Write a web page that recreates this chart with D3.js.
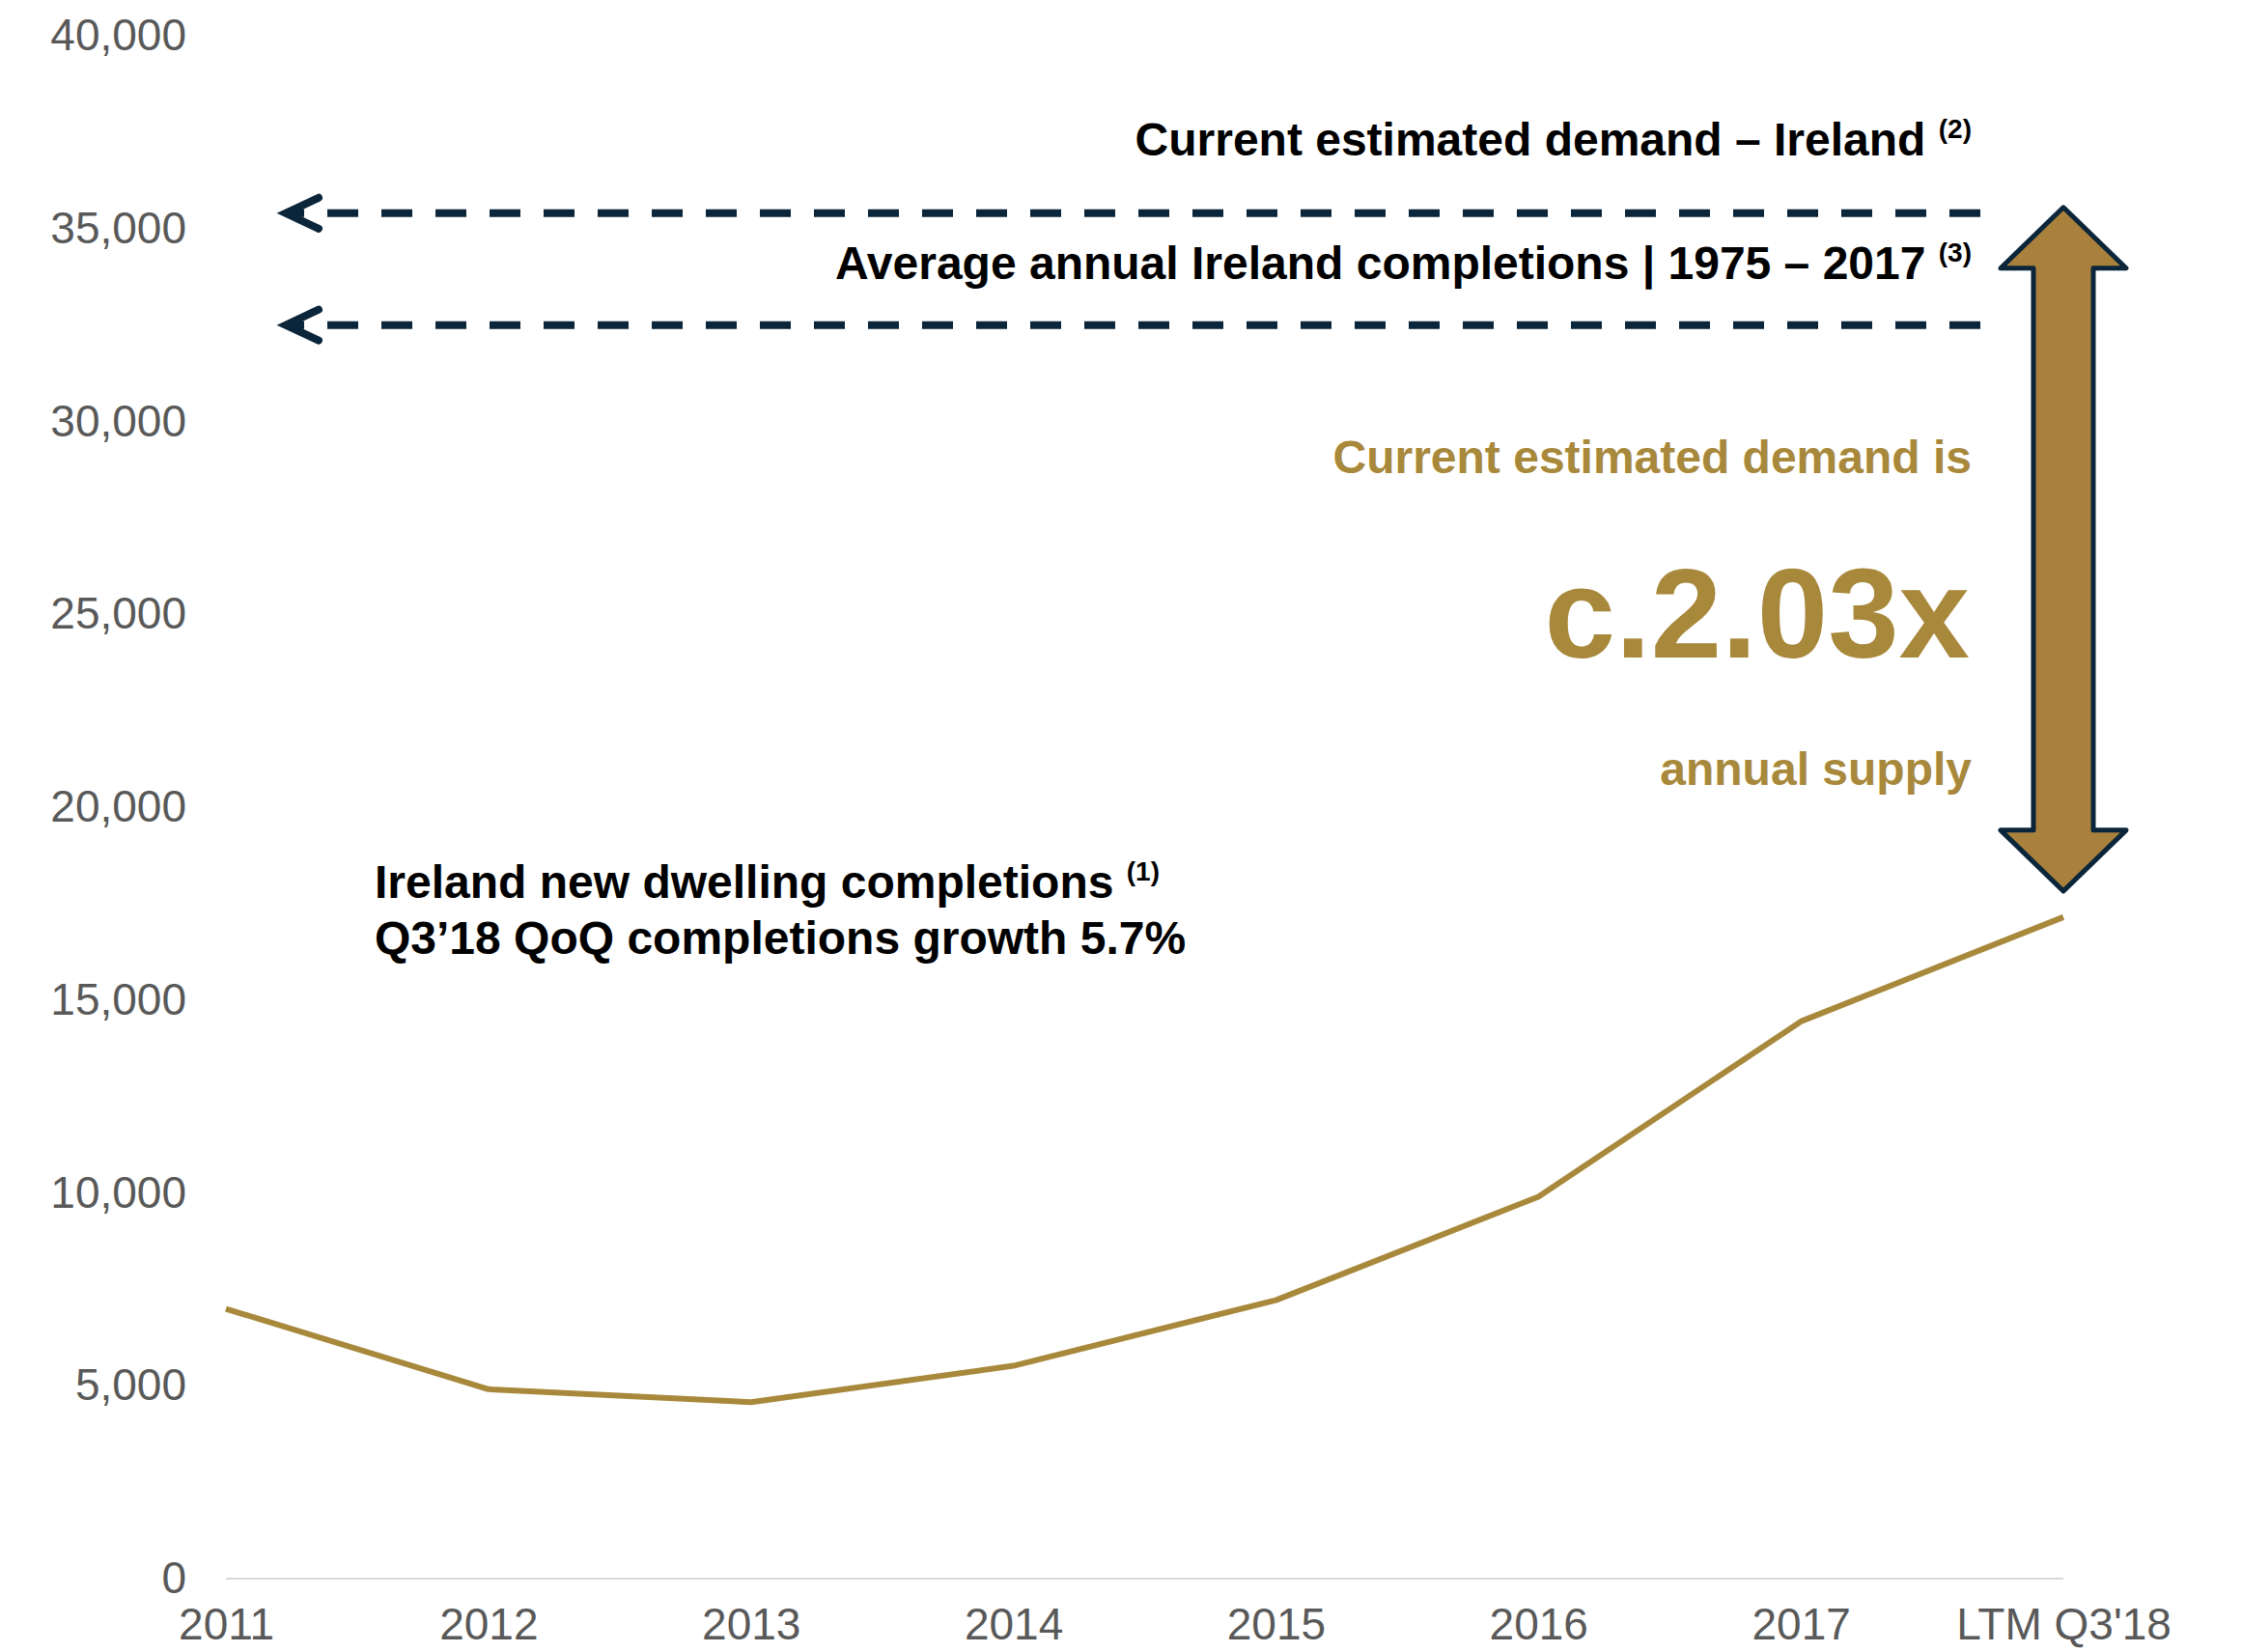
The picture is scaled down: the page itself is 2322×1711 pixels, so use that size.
<!DOCTYPE html>
<html>
<head>
<meta charset="utf-8">
<script src="https://cdn.jsdelivr.net/npm/d3@7"></script>
<style>
  body { margin: 0; background: #fff; }
  text { font-family: "Liberation Sans", Arial, sans-serif; }
</style>
</head>
<body>
<div id="chart"></div>
<script>
// Plot constants
const WIDTH = 2322;
const HEIGHT = 1711;

// Data
const categories = ["2011", "2012", "2013", "2014", "2015", "2016", "2017", "LTM Q3'18"];
const completions = [6994, 4911, 4575, 5518, 7219, 9900, 14446, 17150];
const yTicks = [0, 5000, 10000, 15000, 20000, 25000, 30000, 35000, 40000];
const demandLevel = 35400;   // current estimated demand
const averageLevel = 32500;  // average annual completions 1975-2017

const GOLD = "#A8883B";
const ARROW_GOLD = "#A9813C";
const NAVY = "#0B253A";
const GREY = "#595959";

const svg = d3
  .select("#chart")
  .append("svg")
  .attr("width", WIDTH)
  .attr("height", HEIGHT);

const x = d3.scalePoint().domain(categories).range([234, 2137]);
const y = d3.scaleLinear().domain([0, 40000]).range([1635, 37]);

// Y axis
const yAxis = svg
  .append("g")
  .attr("transform", "translate(205,0)")
  .call(d3.axisLeft(y).tickValues(yTicks).tickFormat(d3.format(",")).tickSize(0).tickPadding(12));
yAxis.select(".domain").remove();
yAxis.selectAll("text").attr("font-size", "46px").attr("fill", GREY);

// X axis
const xAxis = svg
  .append("g")
  .attr("transform", `translate(0,${y(0)})`)
  .call(d3.axisBottom(x).tickSize(0).tickPadding(30));
xAxis.select(".domain").remove();
xAxis.selectAll("text").attr("font-size", "46px").attr("fill", GREY);

// baseline
svg
  .append("line")
  .attr("x1", x(categories[0]))
  .attr("x2", x(categories[categories.length - 1]))
  .attr("y1", y(0))
  .attr("y2", y(0))
  .attr("stroke", "#D9D9D9")
  .attr("stroke-width", 2);

// Completions line
const line = d3
  .line()
  .x((d, i) => x(categories[i]))
  .y((d) => y(d));

svg
  .append("path")
  .datum(completions)
  .attr("d", line)
  .attr("fill", "none")
  .attr("stroke", GOLD)
  .attr("stroke-width", 6)
  .attr("stroke-linejoin", "round");

// Dashed reference arrows
const dashStart = 300;
const dashEnd = 2051;
[demandLevel, averageLevel].forEach((v) => {
  const yy = y(v);
  svg
    .append("line")
    .attr("x1", dashEnd)
    .attr("x2", dashStart)
    .attr("y1", yy)
    .attr("y2", yy)
    .attr("stroke", NAVY)
    .attr("stroke-width", 8)
    .attr("stroke-dasharray", "32,24");
  svg
    .append("path")
    .attr("d", `M${dashStart + 30},${yy - 16}L${dashStart - 4},${yy}L${dashStart + 30},${yy + 16}`)
    .attr("fill", "none")
    .attr("stroke", NAVY)
    .attr("stroke-width", 8)
    .attr("stroke-linecap", "round")
    .attr("stroke-linejoin", "miter");
});

// Double-headed arrow between supply and demand
const ax = x(categories[categories.length - 1]);
const topTip = y(demandLevel) - 6;
const botTip = y(completions[completions.length - 1]) - 27;
const headH = 63, headW = 65, shaftW = 31;
const arrowPts = [
  [ax, topTip],
  [ax + headW, topTip + headH],
  [ax + shaftW, topTip + headH],
  [ax + shaftW, botTip - headH],
  [ax + headW, botTip - headH],
  [ax, botTip],
  [ax - headW, botTip - headH],
  [ax - shaftW, botTip - headH],
  [ax - shaftW, topTip + headH],
  [ax - headW, topTip + headH],
];
svg
  .append("path")
  .attr("d", "M" + arrowPts.join("L") + "Z")
  .attr("fill", ARROW_GOLD)
  .attr("stroke", NAVY)
  .attr("stroke-width", 5)
  .attr("stroke-linejoin", "round");

// Annotations
function note(xx, yy, anchor, txt, sup, color, size) {
  const t = svg
    .append("text")
    .attr("x", xx)
    .attr("y", yy)
    .attr("text-anchor", anchor)
    .attr("font-weight", "bold")
    .attr("font-size", size + "px")
    .attr("fill", color)
    .text(txt);
  if (sup) {
    t.append("tspan").text(" ");
    t.append("tspan").attr("font-size", "28px").attr("dy", -18).text(sup);
  }
  return t;
}

note(2042, 161, "end", "Current estimated demand – Ireland", "(2)", "#000", 48);
note(2042, 289, "end", "Average annual Ireland completions | 1975 – 2017", "(3)", "#000", 48);
note(2042, 490, "end", "Current estimated demand is", null, GOLD, 48);
note(2040, 681, "end", "c.2.03x", null, GOLD, 132);
note(2042, 813, "end", "annual supply", null, GOLD, 48);
note(388, 930, "start", "Ireland new dwelling completions", "(1)", "#000", 48);
note(388, 988, "start", "Q3’18 QoQ completions growth 5.7%", null, "#000", 48);
</script>
</body>
</html>
